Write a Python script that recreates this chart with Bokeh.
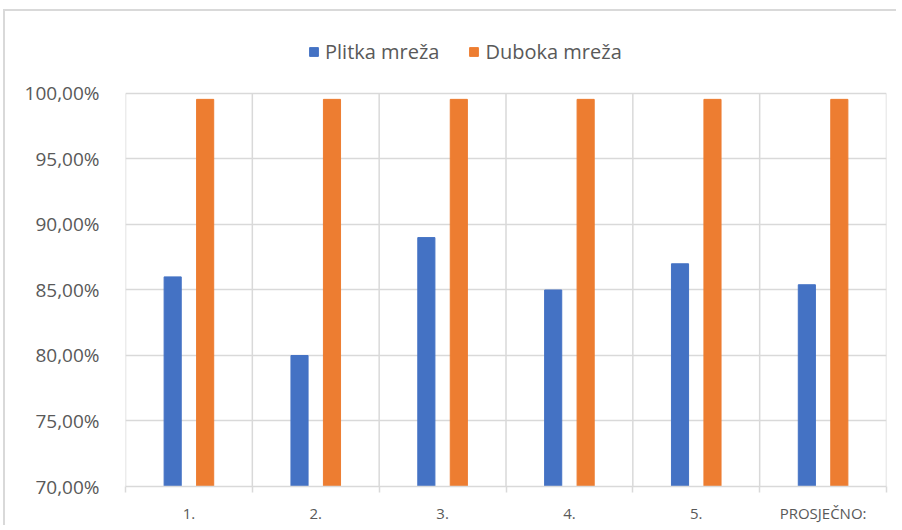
from bokeh.plotting import figure
from bokeh.models import FixedTicker, Range1d, Legend, LegendItem, ColumnDataSource
from bokeh.embed import file_html
from bokeh.resources import INLINE

categories = ["1.", "2.", "3.", "4.", "5.", "PROSJEČNO:"]
plitka = [86.0, 80.0, 89.0, 85.0, 87.0, 85.4]
duboka = [99.55, 99.55, 99.55, 99.55, 99.55, 99.55]
y_ticks = [70, 75, 80, 85, 90, 95, 100]
series_names = ["Plitka mreža", "Duboka mreža"]

BLUE = "#4472C4"
ORANGE = "#ED7D31"
GRID = "#D9D9D9"
TEXT = "#595959"
FONT = "Open Sans"

centers = [i + 0.5 for i in range(len(categories))]
bounds = list(range(len(categories) + 1))
offset = 0.128
width = 0.135

src = ColumnDataSource(dict(
    xb=[c - offset for c in centers],
    xo=[c + offset for c in centers],
    plitka=plitka,
    duboka=duboka,
))
sep = ColumnDataSource(dict(
    x=bounds,
    y0=[y_ticks[0]] * len(bounds),
    y1=[y_ticks[-1]] * len(bounds),
))

# y range extends above 100% to leave room for the legend inside the frame
p = figure(width=893, height=516, output_backend="svg", toolbar_location=None,
           x_range=Range1d(0, len(categories)), y_range=Range1d(y_ticks[0], 105.57),
           min_border_left=120, min_border_right=12, min_border_top=9, min_border_bottom=41)
p.styles = {"border-top": "2px solid #D9D9D9", "border-left": "2px solid #D9D9D9",
            "margin-top": "9px", "margin-left": "3px"}
p.outline_line_color = None
p.background_fill_color = "white"

p.segment(x0="x", x1="x", y0="y0", y1="y1", source=sep, line_color=GRID, line_width=1.5)
rb = p.vbar(x="xb", top="plitka", bottom=0, width=width, source=src,
            fill_color=BLUE, line_color=BLUE)
ro = p.vbar(x="xo", top="duboka", bottom=0, width=width, source=src,
            fill_color=ORANGE, line_color=ORANGE)

# y axis
p.yaxis.ticker = FixedTicker(ticks=y_ticks)
p.yaxis.major_label_overrides = {t: f"{t:.2f}".replace(".", ",") + "%" for t in y_ticks}
p.yaxis.axis_line_color = None
p.yaxis.major_tick_line_color = None
p.yaxis.minor_tick_line_color = None
p.yaxis.major_label_text_font = FONT
p.yaxis.major_label_text_font_size = "19px"
p.yaxis.major_label_text_color = TEXT
p.yaxis.major_label_standoff = 20

# x axis
p.xaxis.ticker = FixedTicker(ticks=centers, minor_ticks=bounds)
p.xaxis.major_label_overrides = {c: lab for c, lab in zip(centers, categories)}
p.xaxis.axis_line_color = GRID
p.xaxis.axis_line_width = 1.5
p.xaxis.major_tick_line_color = None
p.xaxis.minor_tick_line_color = GRID
p.xaxis.minor_tick_line_width = 1.5
p.xaxis.minor_tick_in = 0
p.xaxis.minor_tick_out = 6
p.xaxis.major_label_text_font = FONT
p.xaxis.major_label_text_font_size = "15px"
p.xaxis.major_label_text_color = TEXT
p.xaxis.major_label_standoff = 10

# grids
p.ygrid.grid_line_color = GRID
p.ygrid.grid_line_width = 1.5
p.xgrid.grid_line_color = None

legend = Legend(items=[LegendItem(label=series_names[0], renderers=[rb]),
                       LegendItem(label=series_names[1], renderers=[ro])],
                orientation="horizontal", location=(183, 421),
                glyph_width=11, glyph_height=11, spacing=29,
                label_text_font=FONT, label_text_font_size="20px",
                label_text_color=TEXT, border_line_color=None,
                background_fill_alpha=0, label_standoff=6, padding=6)
p.add_layout(legend, "center")

open("out.html", "w").write(file_html(p, INLINE))
